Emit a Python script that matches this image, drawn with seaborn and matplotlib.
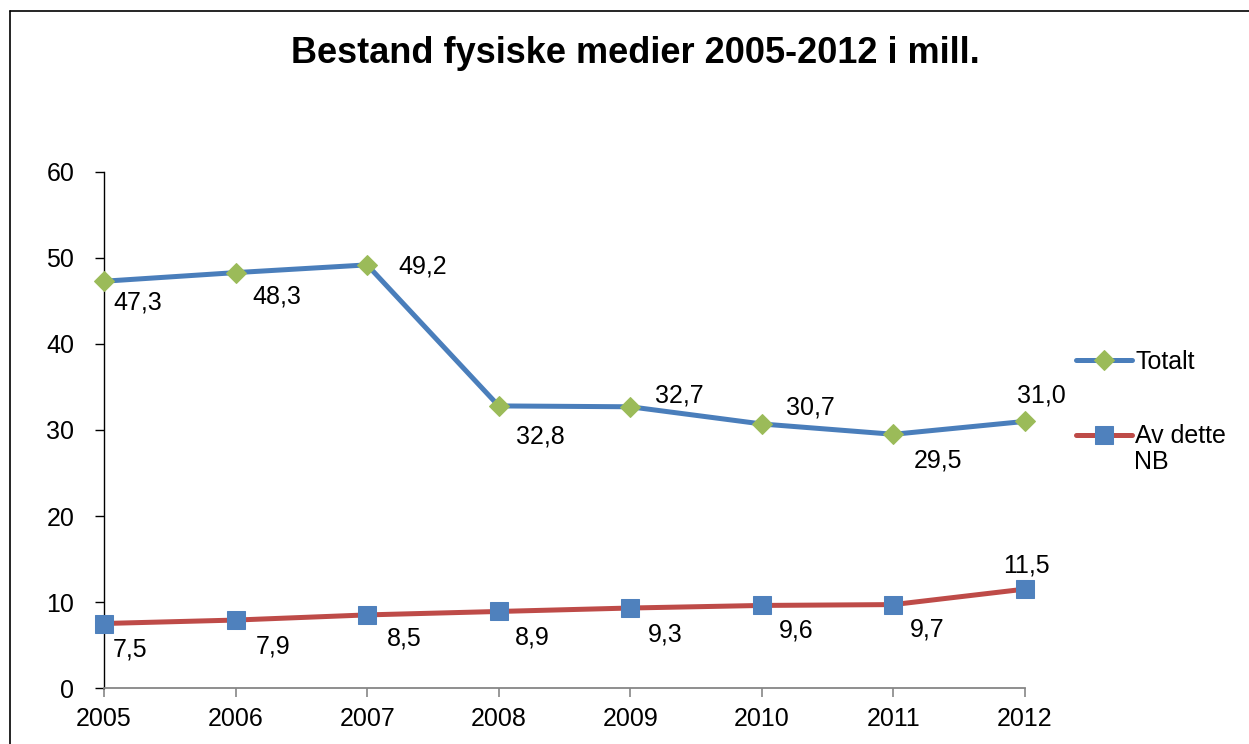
import numpy as np
import pandas as pd
import matplotlib.pyplot as plt
import seaborn as sns
from matplotlib.lines import Line2D

years = [2005, 2006, 2007, 2008, 2009, 2010, 2011, 2012]
totalt = [47.3, 48.3, 49.2, 32.8, 32.7, 30.7, 29.5, 31.0]
nb = [7.5, 7.9, 8.5, 8.9, 9.3, 9.6, 9.7, 11.5]
series_names = ['Totalt', 'Av dette', 'NB']
title = 'Bestand fysiske medier 2005-2012 i mill.'

# label offsets in points (layout only)
off_tot = [(24, -15), (30, -17), (40, -1), (30, -22), (35, 8), (35, 12), (32, -19), (12, 19)]
off_nb = [(19, -19), (27, -19), (27, -17), (24, -19), (25, -19), (25, -18), (24, -18), (1, 17)]

sns.set_style('white')
plt.rcParams['font.family'] = ['Liberation Sans', 'DejaVu Sans']
plt.rcParams['text.color'] = 'black'
plt.rcParams['xtick.color'] = 'black'
plt.rcParams['ytick.color'] = 'black'

fs = 18

df = pd.DataFrame({'year': years, 'Totalt': totalt, 'NB': nb})

fig = plt.figure(figsize=(12.49, 7.44), dpi=100)
ax = fig.add_axes([104 / 1249, 56 / 744, 921 / 1249, 516 / 744])

sns.lineplot(data=df, x='year', y='Totalt', ax=ax, color='#4A7EBB', linewidth=3.6,
             marker='D', markersize=10.5, markerfacecolor='#9BBB59', markeredgecolor='#9BBB59',
             label=series_names[0], clip_on=False, zorder=3)
sns.lineplot(data=df, x='year', y='NB', ax=ax, color='#BE4B48', linewidth=3.6,
             marker='s', markersize=13.5, markerfacecolor='#4F81BD', markeredgecolor='#4F81BD',
             label=series_names[1], clip_on=False, zorder=3)

for x, v, o in zip(years, totalt, off_tot):
    ax.annotate(f'{v:.1f}'.replace('.', ','), (x, v), xytext=o, textcoords='offset points',
                ha='center', va='center', fontsize=fs)
for x, v, o in zip(years, nb, off_nb):
    ax.annotate(f'{v:.1f}'.replace('.', ','), (x, v), xytext=o, textcoords='offset points',
                ha='center', va='center', fontsize=fs)

ax.set_xlim(2005, 2012)
ax.set_ylim(0, 60)
ax.set_xticks(years)
ax.set_yticks(range(0, 61, 10))
ax.set_xlabel('')
ax.set_ylabel('')
ax.tick_params(axis='y', length=6.5, width=1, color='black', pad=15, labelsize=fs, direction='out', left=True)
ax.tick_params(axis='x', length=6.5, width=1.2, color='#868686', pad=7, labelsize=fs, direction='out', bottom=True)
for s in ['top', 'right']:
    ax.spines[s].set_visible(False)
ax.spines['left'].set_color('black')
ax.spines['left'].set_linewidth(1)
ax.spines['bottom'].set_color('#868686')
ax.spines['bottom'].set_linewidth(1.3)

ax.legend(loc='upper left', bbox_to_anchor=(1.042, 0.680), frameon=False, fontsize=fs,
          handlelength=2.24, handletextpad=0.12, labelspacing=2.03, borderpad=0)
# second line of the NB legend label
fig.text(1134 / 1249, 1 - 462 / 744, series_names[2], ha='left', va='center', fontsize=fs)

fig.text(0.509, 0.928, title, ha='center', va='center', fontsize=26, fontweight='bold')

# outer chart frame
fig.add_artist(Line2D([10 / 1249, 10 / 1249], [0, 1 - 11 / 744], color='black', linewidth=1.2))
fig.add_artist(Line2D([10 / 1249, 1], [1 - 11 / 744, 1 - 11 / 744], color='black', linewidth=1.2))

fig.savefig('out.png', dpi=100)
